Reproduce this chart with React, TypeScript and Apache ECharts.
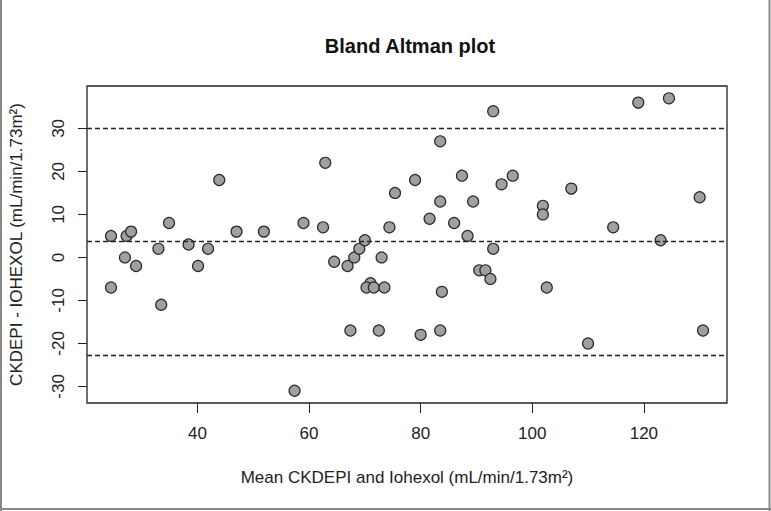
import React, { useEffect, useRef } from "react";
import * as echarts from "echarts";

// Mean of CKDEPI and Iohexol (x) and difference CKDEPI - IOHEXOL (y)
const meanValues = [
  24.5, 24.5, 27.3, 28.1, 27.0, 29.0, 33.0, 33.5, 34.9, 38.4, 40.1, 41.9, 43.9, 47.0, 51.9,
  59.0, 62.5, 62.9, 57.4, 64.5, 66.9, 68.1, 69.0, 70.0, 67.4, 71.0, 70.3, 71.6, 73.5, 73.0,
  72.5, 74.4, 75.4, 79.0, 80.0, 81.6, 83.5, 83.5, 83.5, 83.8, 86.0, 87.4, 88.4, 89.4, 90.5,
  91.6, 92.5, 93.0, 93.0, 94.5, 96.5, 101.9, 101.9, 102.6, 107.0, 110.0, 114.5, 119.0, 123.0,
  124.5, 130.0, 130.6,
];
const diffValues = [
  5, -7, 5, 6, 0, -2, 2, -11, 8, 3, -2, 2, 18, 6, 6,
  8, 7, 22, -31, -1, -2, 0, 2, 4, -17, -6, -7, -7, -7, 0,
  -17, 7, 15, 18, -18, 9, 27, 13, -17, -8, 8, 19, 5, 13, -3,
  -3, -5, 2, 34, 17, 19, 12, 10, -7, 16, -20, 7, 36, 4,
  37, 14, -17,
];
// Limits of agreement and mean difference
const refLines = [30.1, 3.7, -22.7];
const xTicks = [40, 60, 80, 100, 120];
const yTicks = [-30, -20, -10, 0, 10, 20, 30];

const titleText = "Bland Altman plot";
const xName = "Mean CKDEPI and Iohexol (mL/min/1.73m²)";
const yName = "CKDEPI - IOHEXOL (mL/min/1.73m²)";

export default function App() {
  const ref = useRef<HTMLDivElement>(null);
  useEffect(() => {
    document.body.style.margin = "0";
    if (!ref.current) return;
    const chart = echarts.init(ref.current, null, { renderer: "svg" });
    const pts = meanValues.map((x, i) => [x, diffValues[i]]);
    const font = "Liberation Sans, Arial, sans-serif";
    chart.setOption({
      animation: false,
      backgroundColor: "#fff",
      title: {
        text: titleText,
        left: 405,
        top: 31,
        textAlign: "center",
        textStyle: { fontFamily: font, fontWeight: "bold", fontSize: 20, color: "#111" },
      },
      grid: {
        left: 87,
        top: 86,
        right: 44,
        bottom: 108,
        show: true,
        borderColor: "#222",
        borderWidth: 1.3,
        containLabel: false,
      },
      xAxis: {
        type: "value",
        min: 20.2,
        max: 134.9,
        name: xName,
        nameLocation: "middle",
        nameGap: 66,
        nameTextStyle: { fontFamily: font, fontSize: 17, color: "#222" },
        axisLine: { show: false, onZero: false },
        splitLine: { show: false },
        axisTick: { show: true, length: 10, customValues: xTicks, lineStyle: { color: "#222" } },
        axisLabel: { customValues: xTicks, margin: 22, fontFamily: font, fontSize: 17, color: "#222" },
      },
      yAxis: {
        type: "value",
        min: -33.85,
        max: 39.86,
        name: yName,
        nameLocation: "middle",
        nameGap: 62,
        nameRotate: 90,
        nameTextStyle: { fontFamily: font, fontSize: 17, color: "#222" },
        axisLine: { show: false, onZero: false },
        splitLine: { show: false },
        axisTick: { show: true, length: 9, customValues: yTicks, lineStyle: { color: "#222" } },
        axisLabel: { customValues: yTicks, rotate: 90, margin: 20, fontFamily: font, fontSize: 17, color: "#222" },
      },
      series: [
        {
          type: "scatter",
          data: pts,
          symbol: "circle",
          symbolSize: 11,
          itemStyle: { color: "#a0a0a0", borderColor: "#2a2a2a", borderWidth: 1.2, opacity: 1 },
          markLine: {
            silent: true,
            symbol: "none",
            label: { show: false },
            lineStyle: { color: "#222", type: [5, 3], width: 1.3 },
            data: refLines.map((v) => ({ yAxis: v })),
          },
        },
      ],
      graphic: [
        { type: "line", shape: { x1: 1, y1: 0, x2: 1, y2: 511 }, style: { stroke: "#888", lineWidth: 2 } },
        { type: "line", shape: { x1: 769.5, y1: 0, x2: 769.5, y2: 511 }, style: { stroke: "#888", lineWidth: 2 } },
        { type: "line", shape: { x1: 0, y1: 509, x2: 771, y2: 509 }, style: { stroke: "#888", lineWidth: 2 } },
      ],
    });
    return () => chart.dispose();
  }, []);
  return <div ref={ref} style={{ position: "fixed", left: 0, top: 0, width: 771, height: 511 }} />;
}
